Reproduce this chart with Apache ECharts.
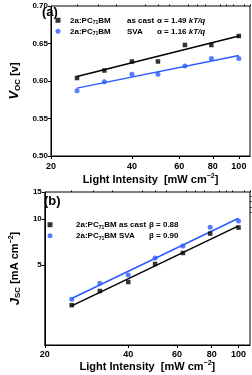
<!DOCTYPE html>
<html><head><meta charset="utf-8">
<script src="https://cdn.jsdelivr.net/npm/echarts@6/dist/echarts.min.js"></script>
<style>html,body{margin:0;padding:0;background:#fff}#c{width:252px;height:375px}</style>
</head><body><div id="c"></div>
<script>
const intensity = [25, 31.6, 40, 50, 63, 79, 100];
const vocCast = [0.604, 0.614, 0.626, 0.626, 0.648, 0.648, 0.660];
const vocSva = [0.587, 0.599, 0.609, 0.609, 0.620, 0.630, 0.630];
const fitX = [25, 100];
const vocFitCast = [0.606, 0.660];
const vocFitSva = [0.5905, 0.634];
const jscCast = [2.73, 3.38, 3.87, 5.08, 5.99, 8.02, 8.78];
const jscSva = [2.99, 3.80, 4.30, 5.56, 6.65, 8.82, 9.70];
const jscFitCast = [2.70, 9.0];
const jscFitSva = [3.02, 10.1];
const xMajor = [20, 40, 60, 80, 100];
const xMinor = [25, 30, 35, 45, 50, 55, 65, 70, 75, 85, 90, 95, 105, 110];
const yJscMajor = [5, 10, 15];
const yJscMinor = [11, 12, 13, 14];

const FONT = '"Liberation Sans", Arial, sans-serif';
const BLACK = '#000';
const BLUE = '#2b5cff';
const pairs = (xs, ys) => xs.map((x, i) => [x, ys[i]]);

const axisTitle = {
  t: {fontSize: 11, fontWeight: 'bold', fontFamily: FONT, color: '#000', lineHeight: 14},
  sup: {fontSize: 7, fontWeight: 'bold', fontFamily: FONT, color: '#000', verticalAlign: 'top', lineHeight: 14},
  i: {fontSize: 13, fontWeight: 'bold', fontStyle: 'italic', fontFamily: FONT, color: '#000', lineHeight: 14},
  sub: {fontSize: 8, fontWeight: 'bold', fontFamily: FONT, color: '#000', verticalAlign: 'bottom', lineHeight: 12}
};

function xAxes(gi) {
  const base = {type: 'log', logBase: 10, min: 20, max: 110, gridIndex: gi};
  return [
    Object.assign({}, base, {
      axisLine: {show: true, lineStyle: {color: '#000', width: 1}},
      axisTick: {show: true, length: 3, customValues: xMajor, lineStyle: {color: '#000'}},
      axisLabel: {customValues: xMajor, fontSize: 9, fontWeight: 'bold', fontFamily: FONT, color: '#000', margin: gi === 0 ? 6 : 5},
      splitLine: {show: false},
      minorTick: {show: false},
      name: '{t|Light Intensity  [mW cm}{sup|−2}{t|]}',
      nameLocation: 'middle', nameGap: gi === 0 ? 17 : 11,
      nameTextStyle: {rich: axisTitle}
    }),
    Object.assign({}, base, {
      axisLine: {show: false},
      axisTick: {show: true, length: 1.5, customValues: xMinor, lineStyle: {color: '#000'}},
      axisLabel: {show: false},
      splitLine: {show: false}
    })
  ];
}

const legendRich = (padW, bmW, castW) => ({
  p: {fontSize: 8, width: padW, lineHeight: 10},
  a: {fontSize: 8, fontWeight: 'bold', fontFamily: FONT, color: '#000', lineHeight: 10},
  s: {fontSize: 5, fontWeight: 'bold', fontFamily: FONT, color: '#000', verticalAlign: 'bottom', lineHeight: 9},
  bm: {fontSize: 8, fontWeight: 'bold', fontFamily: FONT, color: '#000', width: bmW, lineHeight: 10},
  c: {fontSize: 8, fontWeight: 'bold', fontFamily: FONT, color: '#000', width: castW, lineHeight: 10},
  k: {fontSize: 8, fontWeight: 'bold', fontStyle: 'italic', fontFamily: FONT, color: '#000', lineHeight: 10}
});

const legendText = {
  'a-cast': '{p| }{a|2a:PC}{s|71}{bm|BM}{c|as cast}{a|α = 1.49 }{k|kT/q}',
  'a-sva': '{p| }{a|2a:PC}{s|71}{bm|BM}{c|SVA}{a|α = 1.16 }{k|kT/q}',
  'b-cast': '{p| }{a|2a:PC}{s|71}{bm|BM}{c|as cast}{a|β = 0.88}',
  'b-sva': '{p| }{a|2a:PC}{s|71}{bm|BM}{c|SVA}{a|β = 0.90}'
};

const option = {
  animation: false,
  grid: [
    {left: 40, right: 2, top: 6, height: 150, show: true, borderColor: '#000', borderWidth: 1},
    {left: 40, right: 2, top: 192, height: 153, show: true, borderColor: '#000', borderWidth: 1}
  ],
  xAxis: [...xAxes(0), ...xAxes(1)],
  yAxis: [
    {
      type: 'value', gridIndex: 0, min: 0.5, max: 0.7, interval: 0.05,
      axisLine: {show: true, lineStyle: {color: '#000'}},
      axisTick: {show: true, length: 3, lineStyle: {color: '#000'}},
      axisLabel: {fontSize: 8, fontWeight: 'bold', fontFamily: FONT, color: '#000', margin: 3,
        formatter: v => v.toFixed(2)},
      splitLine: {show: false},
      name: '{i|V}{sub|OC}{t| [v]}', nameLocation: 'middle', nameRotate: 90, nameGap: 27,
      nameTextStyle: {rich: axisTitle}
    },
    {
      type: 'log', logBase: 10, gridIndex: 1, min: 1.5, max: 15,
      axisLine: {show: true, lineStyle: {color: '#000'}},
      axisTick: {show: true, length: 3, customValues: yJscMajor, lineStyle: {color: '#000'}},
      axisLabel: {customValues: yJscMajor, fontSize: 8, fontWeight: 'bold', fontFamily: FONT, color: '#000', margin: 3},
      splitLine: {show: false},
      name: '{i|J}{sub|SC}{t| [mA cm}{sup|−2}{t|]}', nameLocation: 'middle', nameRotate: 90, nameGap: 20,
      nameTextStyle: {rich: axisTitle}
    },
    {
      type: 'log', logBase: 10, gridIndex: 1, min: 1.5, max: 15,
      axisLine: {show: false},
      axisTick: {show: true, length: 1.5, customValues: yJscMinor, lineStyle: {color: '#000'}},
      axisLabel: {show: false}, splitLine: {show: false}
    }
  ],
  legend: [
    {
      data: [{name: 'a-cast', icon: 'rect'}, {name: 'a-sva', icon: 'circle'}],
      orient: 'vertical', left: 55.5, top: 16.3, padding: 0, itemWidth: 5, itemHeight: 5, itemGap: 2,
      formatter: n => legendText[n], textStyle: {rich: legendRich(4.5, 28.7, 30)}, selectedMode: false
    },
    {
      data: [{name: 'b-cast', icon: 'rect'}, {name: 'b-sva', icon: 'circle'}],
      orient: 'vertical', left: 47.5, top: 220.7, padding: 0, itemWidth: 5, itemHeight: 5, itemGap: 2,
      formatter: n => legendText[n], textStyle: {rich: legendRich(18.5, 14.7, 30)}, selectedMode: false
    }
  ],
  series: [
    {name: 'a-fit-cast', type: 'line', xAxisIndex: 0, yAxisIndex: 0, data: pairs(fitX, vocFitCast),
      showSymbol: false, lineStyle: {color: BLACK, width: 1.5}, z: 2},
    {name: 'a-fit-sva', type: 'line', xAxisIndex: 0, yAxisIndex: 0, data: pairs(fitX, vocFitSva),
      showSymbol: false, lineStyle: {color: BLUE, width: 1.5}, z: 2},
    {name: 'a-cast', type: 'scatter', xAxisIndex: 0, yAxisIndex: 0, data: pairs(intensity, vocCast),
      symbol: 'rect', symbolSize: 4.5, itemStyle: {color: BLACK}, z: 3},
    {name: 'a-sva', type: 'scatter', xAxisIndex: 0, yAxisIndex: 0, data: pairs(intensity, vocSva),
      symbol: 'circle', symbolSize: 5, itemStyle: {color: BLUE}, z: 3},
    {name: 'b-fit-cast', type: 'line', xAxisIndex: 2, yAxisIndex: 1, data: pairs(fitX, jscFitCast),
      showSymbol: false, lineStyle: {color: BLACK, width: 1.5}, z: 2},
    {name: 'b-fit-sva', type: 'line', xAxisIndex: 2, yAxisIndex: 1, data: pairs(fitX, jscFitSva),
      showSymbol: false, lineStyle: {color: BLUE, width: 1.5}, z: 2},
    {name: 'b-cast', type: 'scatter', xAxisIndex: 2, yAxisIndex: 1, data: pairs(intensity, jscCast),
      symbol: 'rect', symbolSize: 4.5, itemStyle: {color: BLACK}, z: 3},
    {name: 'b-sva', type: 'scatter', xAxisIndex: 2, yAxisIndex: 1, data: pairs(intensity, jscSva),
      symbol: 'circle', symbolSize: 5, itemStyle: {color: BLUE}, z: 3}
  ],
  graphic: [
    {type: 'text', left: 42, top: 6, style: {text: '(a)', fontSize: 13, fontWeight: 'bold', fontFamily: FONT, fill: '#000'}},
    {type: 'text', left: 44, top: 195, style: {text: '(b)', fontSize: 13, fontWeight: 'bold', fontFamily: FONT, fill: '#000'}}
  ]
};
const chart = echarts.init(document.getElementById('c'), null, {renderer: 'canvas'});
chart.setOption(option);
</script></body></html>
